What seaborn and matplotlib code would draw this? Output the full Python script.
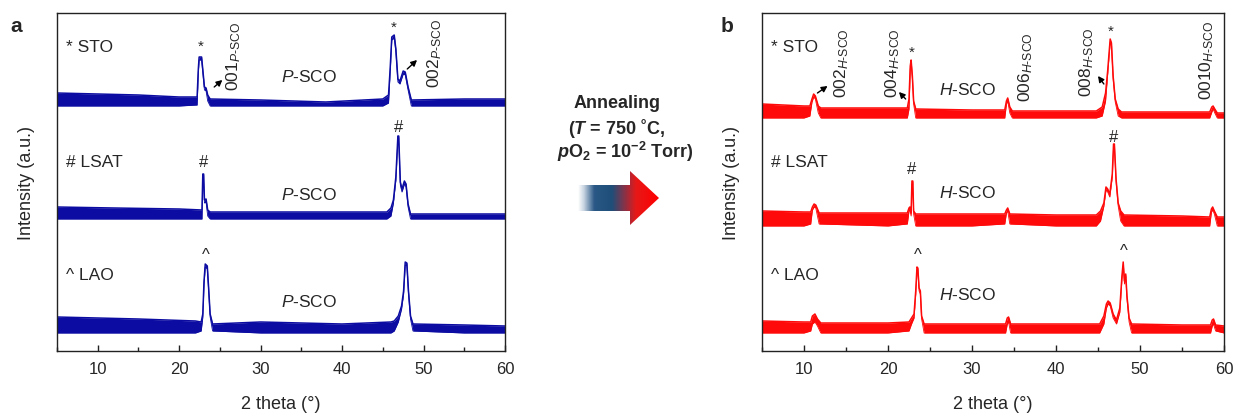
import numpy as np
import pandas as pd
import matplotlib
matplotlib.use("Agg")
import matplotlib.pyplot as plt
import seaborn as sns
from matplotlib.colors import LinearSegmentedColormap
from matplotlib.patches import Polygon
from matplotlib.ticker import MultipleLocator

# ---------------- XRD scans (2theta in degrees, intensity in a.u.) ----------------
# Each scan: anchor angles, upper and lower envelope of the noisy trace,
# intensities measured from the floor of that scan.

# (a) as-grown P-SCO films
sto_a_theta = [5, 10, 15, 20, 22.2, 22.35, 22.45, 22.75, 22.95, 23.1, 23.3, 23.5, 23.8, 30, 38,
               45.0, 45.7, 45.9, 46.1, 46.4, 46.6, 46.85, 47.1, 47.5, 47.75, 48.1, 48.5, 55, 60]
sto_a_upper = [16, 15, 14, 12, 12, 40, 52, 52, 35, 22, 21, 14, 10, 9, 7,
               10, 14, 40, 72, 74, 60, 30, 28, 38, 37, 22, 9, 10, 10]
sto_a_lower = [3, 3, 3, 3, 4, 37, 49, 49, 32, 19, 18, 8, 3, 3, 3,
               3, 6, 37, 69, 71, 57, 27, 25, 35, 34, 19, 3, 3, 3]

lsat_a_theta = [5, 12, 20, 22.8, 22.9, 23.0, 23.1, 23.3, 23.5, 23.8, 35, 45.5, 46.0, 46.3, 46.6,
                46.85, 46.95, 47.15, 47.35, 47.65, 47.85, 48.1, 48.4, 55, 60]
lsat_a_upper = [15, 14, 13, 12, 48, 48, 22, 23, 12, 10, 10, 10, 14, 22, 45,
                86, 86, 40, 33, 41, 38, 18, 8, 8, 8]
lsat_a_lower = [3, 3, 3, 3, 45, 45, 19, 20, 6, 3, 3, 3, 6, 19, 42,
                83, 83, 37, 30, 38, 35, 15, 3, 3, 3]

lao_a_theta = [5, 15, 22, 22.7, 22.9, 23.05, 23.2, 23.45, 23.6, 23.8, 24.1, 30, 40, 46.0, 46.4,
               46.9, 47.3, 47.55, 47.75, 47.95, 48.15, 48.4, 48.7, 55, 60]
lao_a_upper = [19, 17, 15, 14, 22, 55, 72, 70, 50, 22, 12, 14, 12, 14, 15,
               20, 30, 45, 74, 73, 45, 20, 12, 11, 10]
lao_a_lower = [3, 3, 3, 5, 19, 52, 69, 67, 47, 19, 5, 3, 3, 3, 5,
               14, 27, 42, 71, 70, 42, 17, 5, 3, 3]

# (b) annealed H-SCO films
sto_b_theta = [5, 10, 10.7, 10.95, 11.15, 11.35, 11.7, 12, 20, 22.3, 22.5, 22.65, 22.75, 22.9, 23.05, 23.3,
               30, 33.9, 34.1, 34.25, 34.5, 34.8, 40, 44.8, 45.5, 45.9, 46.15, 46.45, 46.6, 46.8, 47.05,
               47.4, 47.8, 55, 58.3, 58.55, 58.7, 58.9, 59.2, 60]
sto_b_upper = [17, 15, 15, 22, 27, 25, 15, 13, 13, 13, 22, 55, 61, 45, 20, 12,
               11, 11, 20, 23, 14, 10, 10, 10, 14, 28, 50, 82, 78, 45, 22,
               12, 9, 9, 9, 14, 15, 12, 8, 8]
sto_b_lower = [3, 3, 5, 19, 24, 22, 8, 3, 3, 3, 12, 52, 58, 42, 17, 3,
               3, 3, 17, 20, 8, 3, 3, 3, 5, 20, 47, 79, 75, 42, 19,
               5, 3, 3, 3, 9, 12, 8, 3, 3]

lsat_b_theta = [5, 10, 10.8, 11.0, 11.2, 11.4, 11.8, 20, 22.3, 22.5, 22.6, 22.75, 22.85, 22.95, 23.05, 23.3,
                30, 33.9, 34.1, 34.25, 34.5, 40, 44.8, 45.3, 45.7, 45.95, 46.15, 46.4, 46.7, 46.85, 46.95,
                47.15, 47.4, 47.7, 48.1, 55, 58.3, 58.5, 58.65, 58.85, 59.2, 60]
lsat_b_upper = [18, 17, 17, 22, 25, 24, 16, 16, 16, 21, 22, 16, 48, 48, 18, 15,
                15, 15, 19, 21, 15, 14, 14, 18, 26, 42, 40, 35, 55, 85, 85,
                50, 26, 18, 14, 13, 12, 20, 22, 18, 12, 12]
lsat_b_lower = [3, 3, 5, 19, 22, 21, 5, 3, 5, 18, 19, 13, 45, 45, 15, 3,
                3, 5, 16, 18, 5, 3, 3, 8, 23, 39, 37, 32, 52, 82, 82,
                47, 23, 8, 3, 3, 3, 17, 19, 15, 3, 3]

lao_b_theta = [5, 10, 10.8, 11.0, 11.3, 11.6, 12.0, 20, 22.5, 22.8, 23.1, 23.3, 23.45, 23.55, 23.7, 23.85,
               24.0, 24.3, 30, 34.0, 34.2, 34.35, 34.6, 40, 45.2, 45.7, 46.0, 46.2, 46.45, 46.8, 47.2,
               47.6, 47.85, 48.0, 48.15, 48.3, 48.45, 48.7, 49.0, 55, 58.4, 58.6, 58.75, 59.0, 60]
lao_b_upper = [15, 14, 14, 20, 22, 17, 13, 13, 14, 18, 22, 45, 69, 68, 48, 45,
               20, 12, 12, 12, 18, 19, 12, 12, 12, 20, 32, 35, 33, 22, 16,
               28, 60, 74, 55, 62, 40, 18, 12, 11, 11, 16, 17, 11, 10]
lao_b_lower = [3, 3, 5, 12, 14, 10, 3, 3, 5, 12, 18, 42, 66, 65, 45, 42,
               17, 3, 3, 3, 12, 14, 3, 3, 3, 12, 28, 32, 30, 18, 12,
               24, 57, 71, 52, 59, 37, 14, 3, 3, 3, 10, 12, 5, 3]

substrates = ["STO", "LSAT", "LAO"]
substrate_marks = ["*", "#", "^"]

# ---------------- style ----------------
sns.set_style("white")
plt.rcParams["font.family"] = ["Liberation Sans", "DejaVu Sans"]
plt.rcParams["mathtext.fontset"] = "custom"
plt.rcParams["mathtext.rm"] = "Liberation Sans"
plt.rcParams["mathtext.it"] = "Liberation Sans:italic"
plt.rcParams["mathtext.bf"] = "Liberation Sans:bold"
plt.rcParams["mathtext.bfit"] = "Liberation Sans:italic:bold"
plt.rcParams["mathtext.sf"] = "Liberation Sans"

BLUE = "#0C0CA2"
RED = "#FF0A0A"
W, H = 1235, 414

fig = plt.figure(figsize=(W / 100, H / 100), dpi=100)
ax_a = fig.add_axes([57 / W, 1 - 352 / H, 448 / W, 338 / H])
ax_b = fig.add_axes([762 / W, 1 - 352 / H, 462 / W, 338 / H])

offsets_a = [242, 129, 15]
offsets_b = [230, 122, 15]

scans_a = [(sto_a_theta, sto_a_upper, sto_a_lower),
           (lsat_a_theta, lsat_a_upper, lsat_a_lower),
           (lao_a_theta, lao_a_upper, lao_a_lower)]
scans_b = [(sto_b_theta, sto_b_upper, sto_b_lower),
           (lsat_b_theta, lsat_b_upper, lsat_b_lower),
           (lao_b_theta, lao_b_upper, lao_b_lower)]


def draw_scans(ax, scans, offsets, color):
    for (theta, upper, lower), off, name in zip(scans, offsets, substrates):
        df = pd.DataFrame({"theta": theta,
                           "upper": np.asarray(upper, float) + off,
                           "lower": np.asarray(lower, float) + off})
        ax.fill_between(df["theta"], df["lower"], df["upper"], color=color, lw=0)
        sns.lineplot(data=df, x="theta", y="upper", ax=ax, color=color, lw=1.1,
                     estimator=None, sort=False)
        sns.lineplot(data=df, x="theta", y="lower", ax=ax, color=color, lw=0.6,
                     estimator=None, sort=False)


draw_scans(ax_a, scans_a, offsets_a, BLUE)
draw_scans(ax_b, scans_b, offsets_b, RED)

for ax in (ax_a, ax_b):
    ax.set_xlim(5, 60)
    ax.set_ylim(0, 338)
    ax.set_yticks([])
    ax.xaxis.set_major_locator(MultipleLocator(10))
    ax.xaxis.set_minor_locator(MultipleLocator(5))
    ax.tick_params(axis="x", which="major", direction="in", length=4.5, width=1,
                   labelsize=12, pad=7, color="#222222", bottom=True)
    ax.tick_params(axis="x", which="minor", direction="in", length=3, width=1,
                   color="#222222", bottom=True)
    for sp in ax.spines.values():
        sp.set_color("#222222")
        sp.set_linewidth(1.0)
    ax.set_xlabel("2 theta (\u00b0)", fontsize=13, labelpad=14)
    ax.set_ylabel("Intensity (a.u.)", fontsize=13, labelpad=16)

LBL = 12.5

# ---- panel a annotations ----
for y, mark, name in zip([304, 189, 76], substrate_marks, substrates):
    ax_a.text(6.1, y, f"{mark} {name}", fontsize=LBL, ha="left", va="center")
for y in [275, 157, 50]:
    ax_a.text(36.0, y, r"$\mathit{P}$-SCO", fontsize=LBL, ha="center", va="center")
ax_a.text(22.6, 305, "*", fontsize=11, ha="center", va="center")
ax_a.text(46.3, 324, "*", fontsize=11, ha="center", va="center")
ax_a.text(23.0, 189, "#", fontsize=12, ha="center", va="center")
ax_a.text(46.9, 225, "#", fontsize=12, ha="center", va="center")
ax_a.text(23.3, 96, "^", fontsize=12, ha="center", va="center")
ax_a.text(26.7, 261, r"001$_{\mathit{P}\text{-SCO}}$", rotation=90, fontsize=LBL,
          ha="center", va="bottom")
ax_a.text(51.4, 264, r"002$_{\mathit{P}\text{-SCO}}$", rotation=90, fontsize=LBL,
          ha="center", va="bottom")
arrow_kw = dict(arrowstyle="-|>,head_length=0.35,head_width=0.18", color="black", lw=1.0,
                shrinkA=0, shrinkB=0)
ax_a.annotate("", xy=(25.3, 271), xytext=(24.3, 264), arrowprops=arrow_kw)
ax_a.annotate("", xy=(49.2, 291), xytext=(48.0, 282), arrowprops=arrow_kw)

# ---- panel b annotations ----
for y, mark, name in zip([304, 189, 76], substrate_marks, substrates):
    ax_b.text(6.1, y, f"{mark} {name}", fontsize=LBL, ha="left", va="center")
for y in [262, 159, 57]:
    ax_b.text(29.5, y, r"$\mathit{H}$-SCO", fontsize=LBL, ha="center", va="center")
ax_b.text(22.8, 299, "*", fontsize=11, ha="center", va="center")
ax_b.text(46.5, 320, "*", fontsize=11, ha="center", va="center")
ax_b.text(22.8, 182, "#", fontsize=12, ha="center", va="center")
ax_b.text(46.9, 214, "#", fontsize=12, ha="center", va="center")
ax_b.text(23.5, 96, "^", fontsize=12, ha="center", va="center")
ax_b.text(48.1, 100, "^", fontsize=12, ha="center", va="center")
for x, y, idx in [(14.5, 254, "002"), (20.5, 254, "004"), (36.4, 250, "006"),
                  (43.7, 255, "008"), (57.9, 252, "0010")]:
    ax_b.text(x, y, idx + r"$_{\mathit{H}\text{-SCO}}$", rotation=90, fontsize=LBL,
              ha="center", va="bottom")
ax_b.annotate("", xy=(12.8, 265), xytext=(11.6, 258), arrowprops=arrow_kw)
ax_b.annotate("", xy=(21.3, 259), xytext=(22.1, 252), arrowprops=arrow_kw)
ax_b.annotate("", xy=(45.0, 275), xytext=(45.7, 267), arrowprops=arrow_kw)

# ---- panel letters ----
fig.text(16 / W, 1 - 27 / H, "a", fontsize=15, fontweight="bold", ha="center", va="center")
fig.text(727 / W, 1 - 27 / H, "b", fontsize=15, fontweight="bold", ha="center", va="center")

# ---- annealing conditions and arrow ----
fig.text(617 / W, 1 - 103 / H, "Annealing", fontsize=13, fontweight="bold",
         ha="center", va="center")
fig.text(617 / W, 1 - 128 / H, "($\\mathbfit{T}$ = 750 \u02daC,",
         fontsize=13, fontweight="bold", ha="center", va="center")
fig.text(625 / W, 1 - 152 / H, r"$\mathbfit{p}$O$_\mathbf{2}$ = 10$^{\mathbf{-2}}$ Torr)",
         fontsize=13, fontweight="bold", ha="center", va="center")

arr_ax = fig.add_axes([570 / W, 1 - 235 / H, 95 / W, 70 / H])
arr_ax.set_xlim(570, 665)
arr_ax.set_ylim(235, 165)
arr_ax.axis("off")
cmap = LinearSegmentedColormap.from_list(
    "anneal", [(0.0, "#ffffff"), (0.07, "#c9d5e2"), (0.2, "#2a5886"),
               (0.42, "#1f4e79"), (0.72, "#e81818"), (1.0, "#ff0000")])
grad = np.linspace(0, 1, 256)[None, :]
im = arr_ax.imshow(grad, extent=[578, 659, 235, 165], cmap=cmap, aspect="auto",
                   interpolation="bilinear")
shape = Polygon([(578, 186), (630, 186), (630, 172), (659, 199), (630, 226),
                 (630, 212), (578, 212)], closed=True, facecolor="none",
                edgecolor="none", transform=arr_ax.transData)
arr_ax.add_patch(shape)
im.set_clip_path(shape)

fig.savefig("out.png", dpi=100)
